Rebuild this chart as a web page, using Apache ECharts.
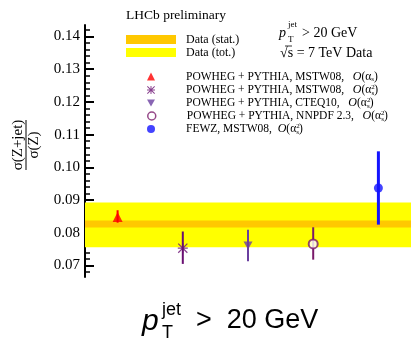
<!DOCTYPE html>
<html><head><meta charset="utf-8">
<script src="https://cdn.jsdelivr.net/npm/echarts@6/dist/echarts.min.js"></script>
<style>html,body{margin:0;padding:0;background:#fff}#c{width:411px;height:338px}</style>
</head><body><div id="c"></div>
<script>
// ---- data ----
const xPositions = [1, 2, 3, 4, 5];
const modelNames = [
  'POWHEG + PYTHIA, MSTW08, O(as)',
  'POWHEG + PYTHIA, MSTW08, O(as2)',
  'POWHEG + PYTHIA, CTEQ10, O(as2)',
  'POWHEG + PYTHIA, NNPDF 2.3, O(as2)',
  'FEWZ, MSTW08, O(as2)'
];
const modelLabels = [
  '{g| }POWHEG + PYTHIA, MSTW08,   {it|O}(α{s|s})',
  '{g| }POWHEG + PYTHIA, MSTW08,   {it|O}(α{p|2}{s|s})',
  '{g| }POWHEG + PYTHIA, CTEQ10,   {it|O}(α{p|2}{s|s})',
  '{g| }POWHEG + PYTHIA, NNPDF 2.3,   {it|O}(α{p|2}{s|s})',
  '{g| }FEWZ, MSTW08,  {it|O}(α{p|2}{s|s})'
];
const centralValues = [0.0848, 0.0753, 0.0761, 0.0766, 0.0937];
const errLow  = [0.0831, 0.0705, 0.0713, 0.0718, 0.0825];
const errHigh = [0.0869, 0.0804, 0.0809, 0.0817, 0.1049];
const dataStatBand = [0.0816, 0.0838];
const dataTotBand  = [0.0756, 0.0893];
const yMajorTicks = [0.07, 0.08, 0.09, 0.10, 0.11, 0.12, 0.13, 0.14];
const yMinorTicks = [0.068, 0.072, 0.074, 0.076, 0.078, 0.082, 0.084, 0.086, 0.088,
  0.092, 0.094, 0.096, 0.098, 0.102, 0.104, 0.106, 0.108, 0.112, 0.114, 0.116, 0.118,
  0.122, 0.124, 0.126, 0.128, 0.132, 0.134, 0.136, 0.138, 0.142];

// ---- styles ----
const STAR = 'path://M4.4 0H5.6V10H4.4Z M0 4.4H10V5.6H0Z M0 0.85L0.85 0L10 9.15L9.15 10Z M9.15 0L10 0.85L0.85 10L0 9.15Z';
const INVTRI = 'path://M0 0L10 0L5 9Z';
const styles = [
  {color: '#ff0000', symbol: 'triangle', size: [10, 10], bar: 2},
  {color: '#6a0f72', symbol: STAR, size: [10, 10], bar: 2},
  {color: '#6a3fa0', symbol: INVTRI, size: [9, 8], bar: 2},
  {color: '#7a1a6a', symbol: 'emptyCircle', size: [9, 9], bar: 2},
  {color: '#1414ff', symbol: 'circle', size: [9, 9], bar: 3}
];
const SERIF = 'Liberation Serif';
const rowTop = [77.5, 90.5, 103.5, 116.5, 129.5];

const series = [];
series.push({
  name: 'Data (tot.)', type: 'line', data: [], itemStyle: {color: '#ffff00'}, z: 1,
  markArea: {silent: true, itemStyle: {color: '#ffff00', opacity: 1},
    data: [[{yAxis: dataTotBand[0]}, {yAxis: dataTotBand[1]}]]}
});
series.push({
  name: 'Data (stat.)', type: 'line', data: [], itemStyle: {color: '#ffc800'}, z: 1,
  markArea: {silent: true, itemStyle: {color: '#ffc800', opacity: 1},
    data: [[{yAxis: dataStatBand[0]}, {yAxis: dataStatBand[1]}]]}
});
modelNames.forEach((n, i) => {
  const st = styles[i];
  series.push({
    name: n, type: 'scatter', z: 5,
    symbol: st.symbol, symbolSize: st.size,
    itemStyle: st.symbol === 'emptyCircle' ? {color: st.color, borderWidth: 1.6, borderColor: st.color} : {color: st.color},
    data: [[xPositions[i], centralValues[i]]]
  });
});
modelNames.forEach((n, i) => {
  const st = styles[i];
  series.push({
    type: 'custom', z: 3,
    data: [[xPositions[i], errLow[i], errHigh[i]]],
    encode: {x: 0, y: [1, 2]},
    renderItem: function (params, api) {
      const x = api.value(0);
      const p1 = api.coord([x, api.value(1)]);
      const p2 = api.coord([x, api.value(2)]);
      return {type: 'line', shape: {x1: p1[0], y1: p1[1], x2: p2[0], y2: p2[1]},
        style: {stroke: st.color, lineWidth: st.bar}};
    }
  });
});

const legendRich = {
  g: {width: 26},
  it: {fontStyle: 'italic', fontFamily: SERIF, fontSize: 12},
  s: {fontSize: 7, fontFamily: SERIF, padding: [6, 0, 0, 0]},
  p: {fontSize: 7, fontFamily: SERIF, width: 0.1, padding: [0, 0, 6, 0]}
};
const legends = [];
legends.push({left: 126, top: 33, padding: 0, itemWidth: 50, itemHeight: 9, icon: 'rect',
  data: ['Data (stat.)'], selectedMode: false,
  formatter: '{g| }{name}', textStyle: {fontFamily: SERIF, fontSize: 12, color: '#000', lineHeight: 13, rich: {g: {width: 5}}}});
legends.push({left: 126, top: 46, padding: 0, itemWidth: 50, itemHeight: 9, icon: 'rect',
  data: ['Data (tot.)'], selectedMode: false,
  formatter: '{g| }{name}', textStyle: {fontFamily: SERIF, fontSize: 12, color: '#000', lineHeight: 13, rich: {g: {width: 5}}}});
modelNames.forEach((n, i) => {
  const st = styles[i];
  const item = st.symbol === 'emptyCircle'
    ? {name: n, icon: 'circle', itemStyle: {color: '#fff', borderColor: st.color, borderWidth: 1.5}}
    : {name: n};
  legends.push({left: 147, top: rowTop[i] - 7, padding: 0, itemWidth: 8, itemHeight: 8,
    data: [item], selectedMode: false,
    formatter: () => modelLabels[i],
    textStyle: {fontFamily: SERIF, fontSize: 11.5, color: '#000', rich: legendRich}});
});

const chart = echarts.init(document.getElementById('c'), null, {renderer: 'canvas'});
chart.setOption({
  animation: false,
  backgroundColor: '#fff',
  grid: {left: 85, right: 0, top: 25, bottom: 61, containLabel: false},
  xAxis: {type: 'value', min: 0.5, max: 5.5, show: false},
  yAxis: [
    {type: 'value', min: 0.0665, max: 0.1435, position: 'left',
      axisLine: {show: true, lineStyle: {color: '#000', width: 2}},
      axisTick: {show: true, inside: true, length: 9, lineStyle: {color: '#000', width: 2}, customValues: yMajorTicks},
      axisLabel: {show: true, margin: 5, customValues: yMajorTicks, formatter: v => v.toFixed(2),
        fontFamily: SERIF, fontSize: 15, color: '#000'},
      splitLine: {show: false}},
    {type: 'value', min: 0.0665, max: 0.1435, position: 'left', offset: 0,
      axisLine: {show: false},
      axisTick: {show: true, inside: true, length: 5, lineStyle: {color: '#000', width: 1.5}, customValues: yMinorTicks},
      axisLabel: {show: false}, splitLine: {show: false}}
  ],
  legend: legends,
  series: series,
  graphic: [
    {type: 'text', left: 126, top: 8, style: {text: 'LHCb preliminary', font: '13.5px "Liberation Serif"', fill: '#000'}},
    {type: 'text', x: 279, y: 33, style: {text: 'p', font: 'italic 14px "Liberation Serif"', fill: '#000', verticalAlign: 'middle'}},
    {type: 'text', x: 288, y: 25, style: {text: 'jet', font: '9px "Liberation Serif"', fill: '#000', verticalAlign: 'middle'}},
    {type: 'text', x: 288, y: 40, style: {text: 'T', font: '9px "Liberation Serif"', fill: '#000', verticalAlign: 'middle'}},
    {type: 'text', x: 302, y: 33, style: {text: '> 20 GeV', font: '14px "Liberation Serif"', fill: '#000', verticalAlign: 'middle'}},
    {type: 'text', x: 280, y: 53, style: {text: '√s = 7 TeV Data', font: '14px "Liberation Serif"', fill: '#000', verticalAlign: 'middle'}},
    {type: 'line', shape: {x1: 285, y1: 46, x2: 292, y2: 46}, style: {stroke: '#000', lineWidth: 0.8}},
    {type: 'group', x: 26, y: 145, rotation: Math.PI / 2, children: [
      {type: 'text', x: 0, y: -8, style: {text: 'σ(Z+jet)', font: '15px "Liberation Serif"', fill: '#000', align: 'center', verticalAlign: 'middle'}},
      {type: 'text', x: 0, y: 8, style: {text: 'σ(Z)', font: '15px "Liberation Serif"', fill: '#000', align: 'center', verticalAlign: 'middle'}},
      {type: 'line', shape: {x1: -25, y1: 0, x2: 25, y2: 0}, style: {stroke: '#000', lineWidth: 1}}
    ]},
    {type: 'text', x: 142, y: 322, style: {text: 'p', font: 'italic 30px "Liberation Sans"', fill: '#000', verticalAlign: 'middle'}},
    {type: 'text', x: 162, y: 310, style: {text: 'jet', font: '18px "Liberation Sans"', fill: '#000', verticalAlign: 'middle'}},
    {type: 'text', x: 162, y: 333, style: {text: 'T', font: '18px "Liberation Sans"', fill: '#000', verticalAlign: 'middle'}},
    {type: 'text', x: 196, y: 321, style: {text: '>  20 GeV', font: '27px "Liberation Sans"', fill: '#000', verticalAlign: 'middle'}}
  ]
});
</script></body></html>
